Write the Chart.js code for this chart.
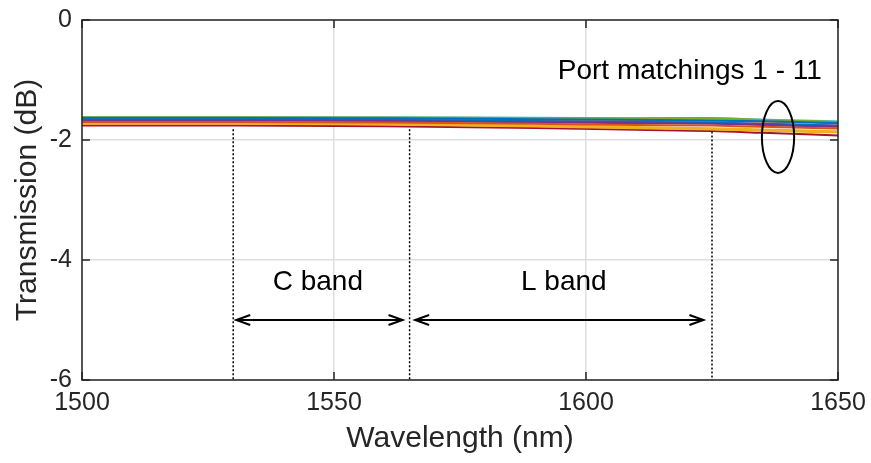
<!DOCTYPE html>
<html>
<head>
    <title>Transmission</title>
    <script src="https://cdn.jsdelivr.net/npm/chart.js"></script>
    <style>
        body { margin: 0; background: #fff; }
    </style>
</head>
<body>
    <canvas id="transmision" width="871" height="463"></canvas>

    <script>
        // wavelength samples (nm)
        var wl = [1500, 1530, 1560, 1590, 1610, 1625, 1635, 1645, 1650];

        // transmission of each port matching (dB)
        var port1  = [-1.633, -1.633, -1.638, -1.653, -1.663, -1.673, -1.688, -1.708, -1.718];
        var port2  = [-1.70, -1.70, -1.71, -1.73, -1.75, -1.76, -1.78, -1.80, -1.81];
        var port3  = [-1.73, -1.73, -1.74, -1.775, -1.805, -1.825, -1.845, -1.865, -1.875];
        var port4  = [-1.675, -1.675, -1.685, -1.705, -1.72, -1.73, -1.75, -1.77, -1.78];
        var port5  = [-1.62, -1.62, -1.625, -1.633, -1.638, -1.632, -1.665, -1.685, -1.695];
        var port6  = [-1.615, -1.615, -1.62, -1.63, -1.64, -1.645, -1.66, -1.68, -1.69];
        var port7  = [-1.76, -1.76, -1.77, -1.80, -1.83, -1.85, -1.88, -1.91, -1.925];
        var port8  = [-1.657, -1.657, -1.667, -1.687, -1.702, -1.712, -1.732, -1.752, -1.762];
        var port9  = [-1.635, -1.635, -1.64, -1.655, -1.665, -1.675, -1.69, -1.71, -1.72];
        var port10 = [-1.715, -1.715, -1.725, -1.755, -1.785, -1.805, -1.825, -1.845, -1.855];
        var port11 = [-1.655, -1.655, -1.665, -1.685, -1.70, -1.71, -1.73, -1.75, -1.76];
        var ports = [port1, port2, port3, port4, port5, port6, port7, port8, port9, port10, port11];

        var xTicks = [1500, 1550, 1600, 1650];
        var yTicks = [-6, -4, -2, 0];

        // band edges and labels
        var bandEdges = [1530, 1565, 1625];
        var edgeTops = [-1.82, -1.82, -1.86];
        var bandArrows = [[1530.6, 1563.6], [1566.1, 1623.3]];
        var arrowLevel = -5.0;
        var bandNames = ['C band', 'L band'];
        var bandNameX = [1546.8, 1595.6];
        var bandNameY = -4.37;
        var portNote = 'Port matchings 1 - 11';
        var portNoteAt = [1620.6, -0.85];
        var ellipseAt = [1638.1, -1.95];
        var ellipseRadius = [3.2, 0.6];

        var colores = ['#0072BD', '#D95319', '#EDB120', '#7E2F8E', '#77AC30', '#4DBEEE', '#A2142F'];
        var fuente = '"Liberation Sans", Arial, Helvetica, sans-serif';
        var ejeColor = '#262626';

        var datasets = ports.map(function(p, i) {
            return {
                label: 'Port ' + (i + 1),
                data: wl.map(function(x, j) { return {x: x, y: p[j]}; }),
                borderColor: colores[i % colores.length],
                borderWidth: 2,
                pointRadius: 0,
                fill: false,
                cubicInterpolationMode: 'monotone'
            };
        });

        function arrowHead(ctx, x, y, dir) {
            ctx.beginPath();
            ctx.moveTo(x + dir * 14, y - 5);
            ctx.lineTo(x, y);
            ctx.lineTo(x + dir * 14, y + 5);
            ctx.stroke();
        }

        // box, inward ticks and the annotations
        var anotaciones = {
            id: 'anotaciones',
            afterDatasetsDraw: function(chart) {
                var ctx = chart.ctx;
                var xs = chart.scales.x, ys = chart.scales.y;
                var a = chart.chartArea;
                ctx.save();

                // dotted band edges
                ctx.strokeStyle = '#000';
                ctx.lineWidth = 1.5;
                ctx.setLineDash([2, 2]);
                bandEdges.forEach(function(e, i) {
                    var px = xs.getPixelForValue(e);
                    ctx.beginPath();
                    ctx.moveTo(px, ys.getPixelForValue(edgeTops[i]));
                    ctx.lineTo(px, a.bottom);
                    ctx.stroke();
                });
                ctx.setLineDash([]);

                // double arrows
                ctx.lineWidth = 2;
                var ay = ys.getPixelForValue(arrowLevel);
                bandArrows.forEach(function(r) {
                    var x0 = xs.getPixelForValue(r[0]), x1 = xs.getPixelForValue(r[1]);
                    ctx.beginPath();
                    ctx.moveTo(x0, ay);
                    ctx.lineTo(x1, ay);
                    ctx.stroke();
                    arrowHead(ctx, x0, ay, 1);
                    arrowHead(ctx, x1, ay, -1);
                });

                // ellipse around the curves
                var cx = xs.getPixelForValue(ellipseAt[0]), cy = ys.getPixelForValue(ellipseAt[1]);
                var rx = Math.abs(xs.getPixelForValue(ellipseAt[0] + ellipseRadius[0]) - cx);
                var ry = Math.abs(ys.getPixelForValue(ellipseAt[1] + ellipseRadius[1]) - cy);
                ctx.beginPath();
                ctx.ellipse(cx, cy, rx, ry, 0, 0, Math.PI * 2);
                ctx.stroke();

                // texts
                ctx.fillStyle = '#000';
                ctx.font = '28px ' + fuente;
                ctx.textAlign = 'center';
                ctx.textBaseline = 'middle';
                bandNames.forEach(function(t, i) {
                    ctx.fillText(t, xs.getPixelForValue(bandNameX[i]), ys.getPixelForValue(bandNameY));
                });
                ctx.fillText(portNote, xs.getPixelForValue(portNoteAt[0]), ys.getPixelForValue(portNoteAt[1]));

                // axes box with inward ticks
                ctx.strokeStyle = ejeColor;
                ctx.lineWidth = 1.5;
                ctx.strokeRect(a.left, a.top, a.right - a.left, a.bottom - a.top);
                ctx.beginPath();
                xTicks.forEach(function(t) {
                    var px = xs.getPixelForValue(t);
                    ctx.moveTo(px, a.bottom); ctx.lineTo(px, a.bottom - 8);
                    ctx.moveTo(px, a.top); ctx.lineTo(px, a.top + 8);
                });
                yTicks.forEach(function(t) {
                    var py = ys.getPixelForValue(t);
                    ctx.moveTo(a.left, py); ctx.lineTo(a.left + 8, py);
                    ctx.moveTo(a.right, py); ctx.lineTo(a.right - 8, py);
                });
                ctx.stroke();
                ctx.restore();
            }
        };

        var ctx1 = document.getElementById('transmision').getContext('2d');

        var chart1 = new Chart(ctx1, {
            type: 'line',
            data: { datasets: datasets },
            options: {
                responsive: false,
                animation: false,
                layout: { padding: { top: 20, right: 33, left: 0, bottom: 0 } },
                plugins: {
                    legend: { display: false },
                    tooltip: { enabled: false }
                },
                scales: {
                    x: {
                        type: 'linear',
                        min: 1500,
                        max: 1650,
                        afterBuildTicks: function(s) { s.ticks = xTicks.map(function(v) { return {value: v}; }); },
                        afterFit: function(s) { s.height = 83; s.paddingLeft = 0; s.paddingRight = 0; },
                        grid: { color: '#dedede', lineWidth: 1.5, drawTicks: false },
                        border: { display: false },
                        ticks: {
                            color: ejeColor,
                            font: { size: 25, family: fuente },
                            padding: 8,
                            maxRotation: 0,
                            callback: function(v) { return String(v); }
                        },
                        title: {
                            display: true,
                            text: 'Wavelength (nm)',
                            color: ejeColor,
                            font: { size: 30, family: fuente },
                            padding: { top: 0, bottom: 6 }
                        }
                    },
                    y: {
                        min: -6,
                        max: 0,
                        afterBuildTicks: function(s) { s.ticks = yTicks.map(function(v) { return {value: v}; }); },
                        afterFit: function(s) { s.width = 82; s.paddingTop = 0; s.paddingBottom = 0; },
                        grid: { color: '#dedede', lineWidth: 1.5, drawTicks: false },
                        border: { display: false },
                        ticks: {
                            color: ejeColor,
                            font: { size: 25, family: fuente },
                            padding: 10,
                            callback: function(v) { return String(v); }
                        },
                        title: {
                            display: true,
                            text: 'Transmission (dB)',
                            color: ejeColor,
                            font: { size: 30, family: fuente },
                            padding: { top: 10, bottom: 0 }
                        }
                    }
                }
            },
            plugins: [anotaciones]
        });
    </script>
</body>
</html>
